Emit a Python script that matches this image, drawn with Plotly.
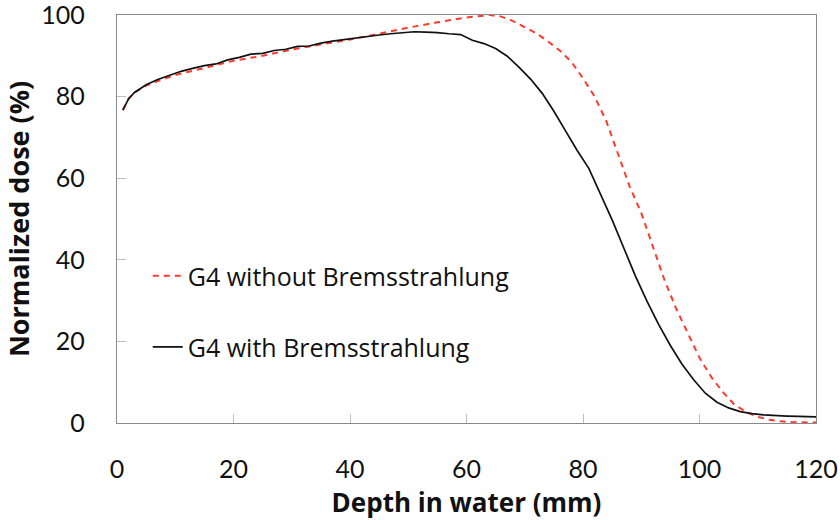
import plotly.graph_objects as go

# Depth-dose curves (depth in mm, dose normalised to the peak in %)
depth_brems = [1, 2, 3, 4, 5, 7, 9, 11, 13, 15, 17, 19, 21, 23, 25, 27, 29, 31, 33, 35,
               37, 39, 41, 43, 45, 47, 49, 51, 53, 55, 57, 59, 61, 63, 65, 67, 69, 71, 73,
               75, 77, 79, 81, 83, 85, 87, 89, 91, 93, 95, 97, 99, 101, 103, 105, 107, 109,
               111, 113, 115, 117, 120]
dose_brems = [76.7, 79.5, 81.0, 82.0, 82.9, 84.2, 85.2, 86.2, 86.9, 87.6, 88.0, 89.0, 89.6,
              90.4, 90.6, 91.3, 91.6, 92.3, 92.4, 93.1, 93.6, 94.0, 94.4, 94.8, 95.1, 95.4,
              95.7, 95.9, 95.8, 95.7, 95.4, 95.2, 93.8, 93.0, 91.8, 89.9, 87.2, 84.3, 80.8,
              76.4, 71.6, 66.8, 62.4, 56.0, 49.8, 42.9, 36.0, 29.8, 24.1, 19.0, 14.4, 10.6,
              7.3, 5.1, 3.7, 2.8, 2.3, 2.0, 1.8, 1.7, 1.6, 1.5]

depth_nobrems = [1, 2, 3, 5, 7, 10, 15, 20, 25, 30, 35, 40, 45, 50, 55, 60, 64, 66, 68, 70,
                 72, 74, 76, 78, 80, 82, 84, 86, 88, 90, 92, 94, 96, 98, 100, 102, 104, 106,
                 108, 110, 112, 114, 116, 120]
dose_nobrems = [76.7, 79.5, 81.0, 82.7, 83.8, 85.3, 87.0, 88.8, 90.0, 91.5, 92.8, 94.0, 95.4,
                96.9, 98.2, 99.4, 100.0, 99.6, 98.5, 97.0, 95.5, 93.5, 91.3, 88.5, 84.5, 80.0,
                74.0, 66.0, 58.0, 51.5, 43.0, 35.0, 28.0, 22.0, 16.0, 11.3, 7.6, 4.5, 2.7, 1.5,
                0.8, 0.4, 0.2, 0.1]

x_ticks = [0, 20, 40, 60, 80, 100, 120]
y_ticks = [0, 20, 40, 60, 80, 100]

TICK_FONT = "Lato, 'Open Sans', sans-serif"
TEXT_FONT = "'Open Sans', Lato, sans-serif"

fig = go.Figure()
fig.add_trace(go.Scatter(
    x=depth_nobrems, y=dose_nobrems, mode="lines",
    name="G4 without Bremsstrahlung",
    line=dict(color="#ff3b2f", width=2, dash="6px,5px"),
    legend="legend", showlegend=True,
))
fig.add_trace(go.Scatter(
    x=depth_brems, y=dose_brems, mode="lines",
    name="G4 with Bremsstrahlung",
    line=dict(color="#111111", width=1.7),
    legend="legend2", showlegend=True,
))

axis_common = dict(
    showgrid=False, zeroline=False, automargin=False,
    showline=True, linecolor="#8a8a8a", linewidth=1.3, mirror=True,
    ticks="inside", ticklen=9, tickcolor="#bdbdbd", tickwidth=1,
    tickfont=dict(family=TICK_FONT, size=25, color="#111"),
    ticklabeloverflow="allow",
)

legend_common = dict(xanchor="left", yanchor="middle", bgcolor="rgba(0,0,0,0)",
                     font=dict(family=TEXT_FONT, size=25, color="#111"))

fig.update_layout(
    width=840, height=520,
    margin=dict(l=117, r=24, t=15, b=97),
    plot_bgcolor="white", paper_bgcolor="white",
    showlegend=True,
    xaxis=dict(range=[0, 120], tickvals=x_ticks, ticklabelstandoff=24,
               title=dict(text="<b>Depth in water (mm)</b>", standoff=16,
                          font=dict(family=TEXT_FONT, size=26, color="#111")),
               **axis_common),
    yaxis=dict(range=[0, 100], tickvals=y_ticks, ticklabelstandoff=26,
               title=dict(text="<b>Normalized dose (%)</b>", standoff=3,
                          font=dict(family=TEXT_FONT, size=27, color="#111")),
               **axis_common),
    legend=dict(x=0.044, y=0.36, **legend_common),
    legend2=dict(x=0.044, y=0.186, **legend_common),
)

fig.write_html("out.html")
